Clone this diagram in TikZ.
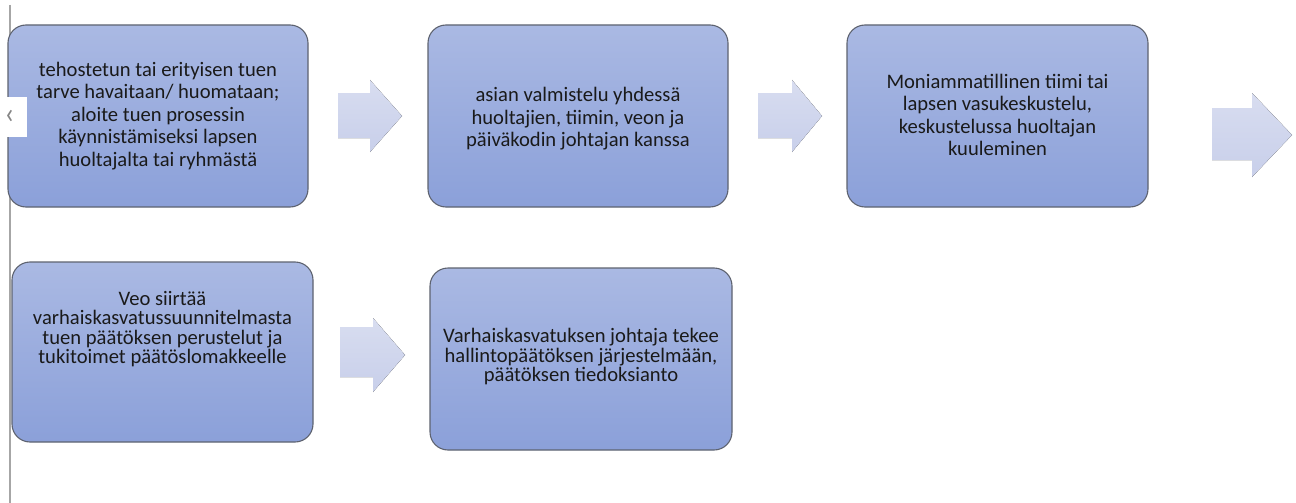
\documentclass[tikz,border=0pt]{standalone}
\usepackage{fontspec}
\setmainfont{Carlito}
\definecolor{boxtop}{HTML}{AAB9E3}
\definecolor{boxbot}{HTML}{8BA0D9}
\definecolor{boxline}{HTML}{5E6370}
\definecolor{arrtop}{HTML}{D8DDF0}
\definecolor{arrbot}{HTML}{C8CFEA}
\definecolor{txtcol}{HTML}{1A1A1A}
\definecolor{sideline}{HTML}{A6A6A6}
\begin{document}
\begin{tikzpicture}[x=1pt,y=-1pt,
  stepbox/.style={draw=boxline,line width=1.1pt,rounded corners=18pt,top color=boxtop,bottom color=boxbot,inner sep=0pt},
  txt1/.style={align=center,text=txtcol,font=\fontsize{20.6}{22.5}\selectfont,inner sep=0pt},
  txt2/.style={align=center,text=txtcol,font=\fontsize{20.6}{19.5}\selectfont,inner sep=0pt},
  blockarrow/.style={top color=arrtop,bottom color=arrbot,draw=none}]
\useasboundingbox (0,0) rectangle (1296,503);
\fill[white] (0,0) rectangle (1296,503);
% side line
\draw[sideline,line width=1.6pt] (10,5) -- (10,503);
% boxes
\node[stepbox,minimum width=300pt,minimum height=182pt] (b1) at (158,116) {};
\node[stepbox,minimum width=300pt,minimum height=182pt] (b2) at (578,116) {};
\node[stepbox,minimum width=301pt,minimum height=182pt] (b3) at (997.5,116) {};
\node[stepbox,minimum width=301pt,minimum height=180pt] (b4) at (162.5,352) {};
\node[stepbox,minimum width=302pt,minimum height=182pt] (b5) at (581,359) {};
% texts
\node[txt1] (t1) at ([yshift=0pt]b1.center) {tehostetun tai erityisen tuen\\tarve havaitaan/ huomataan;\\aloite tuen prosessin\\käynnistämiseksi lapsen\\huoltajalta tai ryhmästä};
\node[txt1] (t2) at ([yshift=-3pt]b2.center) {asian valmistelu yhdessä\\huoltajien, tiimin, veon ja\\päiväkodin johtajan kanssa};
\node[txt1] (t3) at ([yshift=1pt]b3.center) {Moniammatillinen tiimi tai\\lapsen vasukeskustelu,\\keskustelussa huoltajan\\kuuleminen};
\node[txt2] (t4) at ([yshift=23pt]b4.center) {Veo siirtää\\varhaiskasvatussuunnitelmasta\\tuen päätöksen perustelut ja\\tukitoimet päätöslomakkeelle};
\node[txt2] (t5) at ([yshift=2pt]b5.center) {Varhaiskasvatuksen johtaja tekee\\hallintopäätöksen järjestelmään,\\päätöksen tiedoksianto};
% block arrows
\fill[blockarrow] (338,93) -- (370,93) -- (370,80) -- (402,116) -- (370,152) -- (370,138) -- (338,138) -- cycle;
\fill[blockarrow] (758,93) -- (792,93) -- (792,80) -- (822,116) -- (792,152) -- (792,138) -- (758,138) -- cycle;
\fill[blockarrow] (1212,108) -- (1252,108) -- (1252,93) -- (1292,135) -- (1252,177) -- (1252,160) -- (1212,160) -- cycle;
\fill[blockarrow] (340,327) -- (373,327) -- (373,318) -- (405,355) -- (373,392) -- (373,377) -- (340,377) -- cycle;
% left tab
\node[fill=white,minimum width=27pt,minimum height=40pt,inner sep=0pt,anchor=north west] (tab) at (0,97) {};
\node[text=sideline!80!black,font=\fontsize{30}{30}\selectfont,inner sep=0pt] (tabsym) at ([xshift=-4pt]tab.center) {\symbol{"2039}};
\end{tikzpicture}
\end{document}
